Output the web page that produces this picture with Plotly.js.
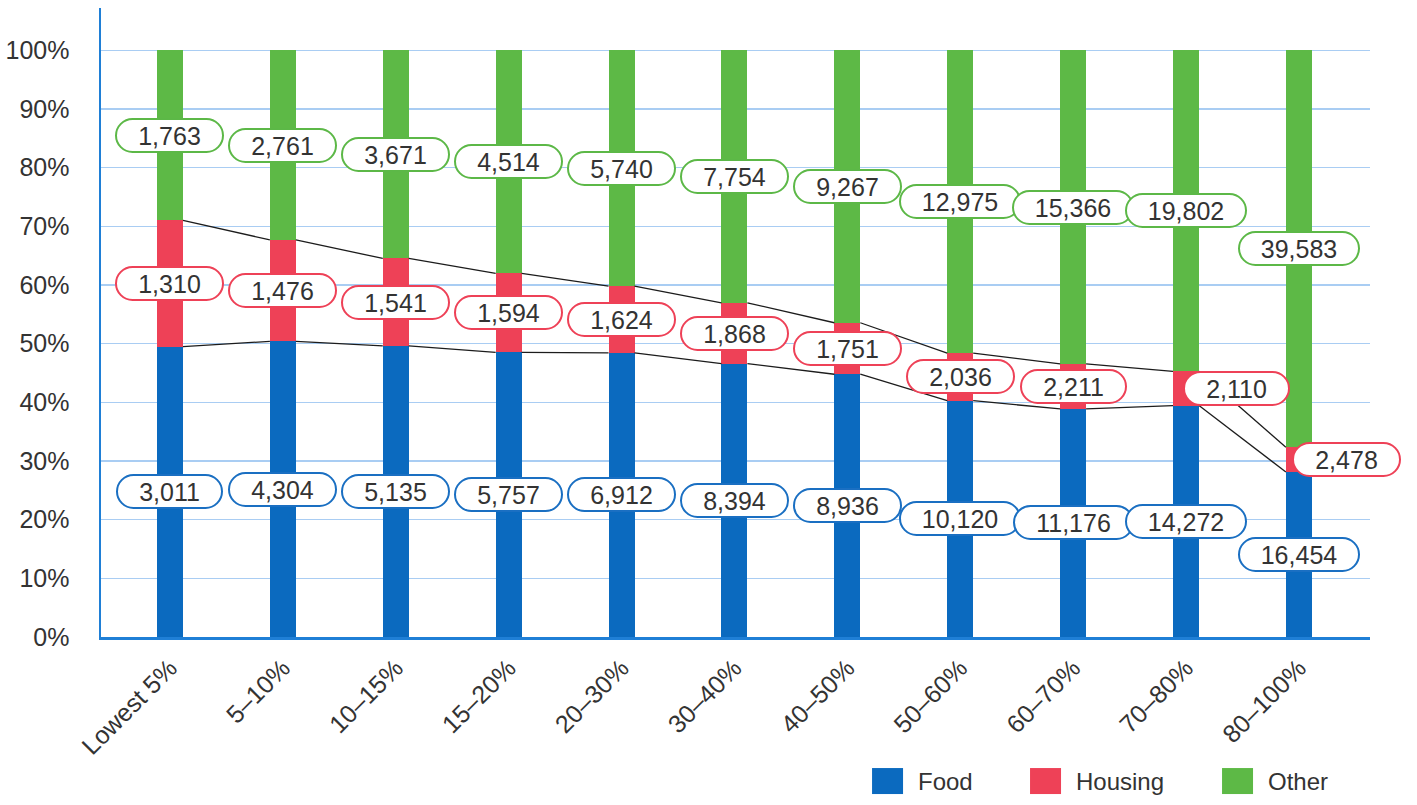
<!DOCTYPE html>
<html>
<head>
<meta charset="utf-8">
<script src="https://cdn.plot.ly/plotly-3.0.1.min.js"></script>
<style>
  html, body { margin: 0; padding: 0; background: #fff; }
  #chart { width: 1417px; height: 805px; }
</style>
</head>
<body>
<div id="chart"></div>
<script>
// Household spending by income group: food, housing and everything else
const categories = ['Lowest 5%', '5–10%', '10–15%', '15–20%', '20–30%', '30–40%',
                    '40–50%', '50–60%', '60–70%', '70–80%', '80–100%'];
const food    = [3011, 4304, 5135, 5757, 6912, 8394, 8936, 10120, 11176, 14272, 16454];
const housing = [1310, 1476, 1541, 1594, 1624, 1868, 1751, 2036, 2211, 2110, 2478];
const other   = [1763, 2761, 3671, 4514, 5740, 7754, 9267, 12975, 15366, 19802, 39583];
const seriesNames = ['Food', 'Housing', 'Other'];

const FONT = "'Liberation Sans', Arial, sans-serif";
const FS = 25;
const TEXT = '#333333';
const barColors = ['#0b6abf', '#ee4157', '#5db946'];
const edgeColors = ['#1a6fc2', '#ee4157', '#5cb847'];
const BAR_W = 0.23;

const series = [food, housing, other];
const idx = categories.map((_, i) => i);

// shares of each group's total, stacked
const totals = idx.map(i => food[i] + housing[i] + other[i]);
const share = series.map(s => s.map((v, i) => v / totals[i] * 100));
const cumTop = [];
let run = idx.map(() => 0);
share.forEach(s => { run = run.map((r, i) => r + s[i]); cumTop.push(run.slice()); });

const traces = series.map((s, k) => ({
  type: 'bar', x: idx, y: s, name: seriesNames[k], width: BAR_W,
  marker: { color: barColors[k], line: { width: 0 } },
  showlegend: false, hoverinfo: 'name+y'
}));

// series lines joining the tops of food and housing from bar to bar
[0, 1].forEach(k => {
  const xs = [], ys = [];
  for (let i = 0; i < categories.length - 1; i++) {
    xs.push(i + BAR_W / 2, i + 1 - BAR_W / 2, null);
    ys.push(cumTop[k][i], cumTop[k][i + 1], null);
  }
  traces.push({ type: 'scatter', mode: 'lines', x: xs, y: ys,
    line: { color: '#1c1c1c', width: 1.3 }, showlegend: false, hoverinfo: 'skip' });
});

// text width for sizing the pill-shaped value labels
const ctx = document.createElement('canvas').getContext('2d');
ctx.font = FS + "px 'Liberation Sans'";
const tw = t => ctx.measureText(t).width;

// labels nudged sideways so they clear the series lines
const labelShift = { 'Housing': { 9: 51, 10: 48 } };

const annotations = [];
series.forEach((s, k) => {
  s.forEach((v, i) => {
    const base = k === 0 ? 0 : cumTop[k - 1][i];
    const mid = base + share[k][i] / 2;
    const txt = v.toLocaleString('en-US');
    const shift = (labelShift[seriesNames[k]] || {})[i] || 0;
    annotations.push({
      x: i, y: mid, xref: 'x', yref: 'y', xshift: shift,
      text: txt, showarrow: false,
      font: { family: FONT, size: FS, color: TEXT },
      bgcolor: '#ffffff', bordercolor: edgeColors[k], borderwidth: 2, borderpad: 1,
      width: Math.round(tw(txt) + 40), height: 29
    });
  });
});

// legend row along the bottom right
const shapes = [];
const legendX = [0.6076, 0.7321, 0.8834];
const legendY = -0.229;
seriesNames.forEach((n, k) => {
  shapes.push({ type: 'rect', xref: 'paper', yref: 'paper',
    xsizemode: 'pixel', ysizemode: 'pixel', xanchor: legendX[k], yanchor: legendY,
    x0: 0, x1: 31, y0: -13, y1: 13, fillcolor: barColors[k], line: { width: 0 } });
  annotations.push({ xref: 'paper', yref: 'paper', x: legendX[k], y: legendY,
    xshift: 44, xanchor: 'left', yanchor: 'middle', showarrow: false, text: n,
    font: { family: FONT, size: FS - 1, color: TEXT } });
});

const layout = {
  width: 1417, height: 805,
  margin: { l: 101, r: 47, t: 8, b: 168 },
  paper_bgcolor: '#ffffff', plot_bgcolor: '#ffffff',
  barmode: 'stack', barnorm: 'percent',
  font: { family: FONT, size: FS, color: TEXT },
  xaxis: {
    range: [-0.611, 10.63], tickmode: 'array', tickvals: idx, ticktext: categories,
    tickangle: -45, showgrid: false, zeroline: false,
    showline: true, linecolor: '#1f7fd6', linewidth: 2.5, ticks: '',
    ticklabelstandoff: 4,
    tickfont: { family: FONT, size: FS, color: TEXT }
  },
  yaxis: {
    range: [0, 107.2], tickmode: 'array',
    tickvals: [0, 10, 20, 30, 40, 50, 60, 70, 80, 90, 100],
    ticktext: ['0%', '10%', '20%', '30%', '40%', '50%', '60%', '70%', '80%', '90%', '100%'],
    showgrid: true, gridcolor: '#a9cdf3', gridwidth: 1.2, zeroline: false,
    showline: true, linecolor: '#1f7fd6', linewidth: 2.5, ticks: '',
    ticklabelstandoff: 24,
    tickfont: { family: FONT, size: FS, color: TEXT }
  },
  annotations: annotations,
  shapes: shapes,
  showlegend: false
};

Plotly.newPlot('chart', traces, layout, { displayModeBar: false, staticPlot: true }).then(() => {
  // round the label boxes into pills
  document.querySelectorAll('.annotation-text-g rect.bg').forEach(r => {
    const h = parseFloat(r.getAttribute('height')) || 0;
    r.setAttribute('rx', h / 2);
    r.setAttribute('ry', h / 2);
  });
});
</script>
</body>
</html>
